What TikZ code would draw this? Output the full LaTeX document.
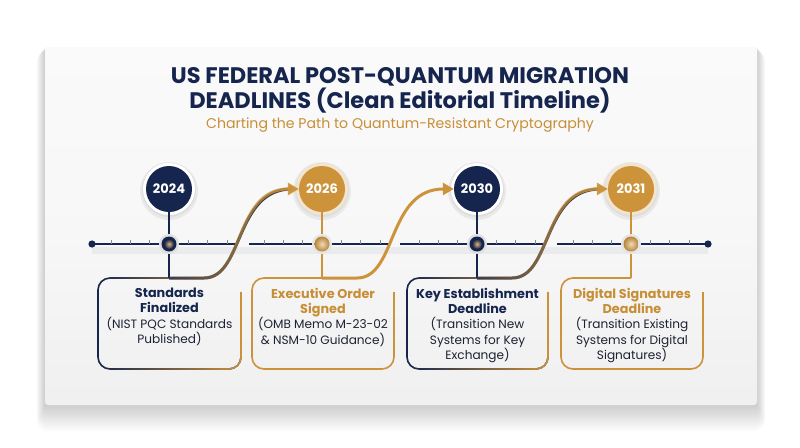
\documentclass[tikz,border=0pt]{standalone}
\usepackage{fontspec}
\setmainfont{Poppins}
\usetikzlibrary{arrows.meta,fadings,calc}
\definecolor{navy}{HTML}{15254D}
\definecolor{gold}{HTML}{CD933A}
\definecolor{goldtxt}{HTML}{C88E36}
\definecolor{bodytxt}{HTML}{1D2233}
\tikzfading[name=fadeleft, left color=transparent!100, right color=transparent!0]
\newcommand{\hn}[1]{{\fontsize{12.8}{15}\selectfont\bfseries\textcolor{navy}{#1}}}
\newcommand{\hg}[1]{{\fontsize{12.8}{15}\selectfont\bfseries\textcolor{goldtxt}{#1}}}
\tikzset{
  boxline/.style={line width=1.6pt, rounded corners=12pt},
  stem/.style={line width=1.6pt},
  tl/.style={line width=2pt, navy},
  tick/.style={line width=0.7pt, navy!55},
  flowhead/.style={-{Triangle[length=11pt,width=12pt]}},
  flow/.style={line width=3pt},
  boxtext/.style={align=center, inner sep=0pt, anchor=north, font=\fontsize{12.1}{15.2}\selectfont, text=bodytxt},
  year/.style={circle, minimum size=46pt, inner sep=0pt, text=white, font=\bfseries\fontsize{13}{15}\selectfont},
}
\begin{document}
\begin{tikzpicture}[x=1pt,y=-1pt]
\useasboundingbox (0,0) rectangle (800,447);
\fill[white] (0,0) rectangle (800,447);
% card shadow
\foreach \i in {1,...,12}{
  \fill[black, opacity=0.014, rounded corners=\i pt] (45-\i*0.7,47+\i*0.3) rectangle (757+\i*0.7,405+\i*2.2);
}
\shade[top color=gray!4, bottom color=gray!12, middle color=gray!6, rounded corners=3pt] (45,47) rectangle (757,405);
% title
\node[align=center, text=navy, font=\bfseries\fontsize{22.5}{25}\selectfont] (title) at (400,90)
  {US FEDERAL POST-QUANTUM MIGRATION\\DEADLINES (Clean Editorial Timeline)};
\node[text=goldtxt, font=\fontsize{14.1}{16}\selectfont] (sub) at (400,125) {Charting the Path to Quantum-Resistant Cryptography};

% timeline shadow
\draw[line width=7pt, navy, opacity=0.05] (92,250) -- (708,250);
% timeline segments
\draw[tl] (92,244) -- (235,244);
\draw[tl] (249,244) -- (390,244);
\draw[tl] (400,244) -- (543,244);
\draw[tl] (557,244) -- (708,244);
\fill[navy] (92,244) circle (3.6pt);
\fill[navy] (708,244) circle (3.6pt);
% ticks
\foreach \c in {169,322,477,631}{
  \foreach \d in {-58,-38.7,-19.3,19.3,38.7,58}{
    \draw[tick] (\c+\d,244) -- (\c+\d,239.5);
  }
}

% coordinates
\coordinate (ma) at (169,244); \coordinate (topa) at (169,278);
\coordinate (mb) at (322,244); \coordinate (topb) at (322,278);
\coordinate (mc) at (477,244); \coordinate (topc) at (477,278);
\coordinate (md) at (631,244); \coordinate (topd) at (631,278);

% box borders
\draw[boxline, navy] (241,292) -- (241,369) -- (98,369) -- (98,278) -- (topa);
\draw[boxline, gold, path fading=fadeleft] (241,292) -- (241,369) -- (98,369) -- (98,278) -- (topa);
\draw[boxline, gold] (394,292) -- (394,369) -- (252,369) -- (252,278) -- (topb);
\draw[boxline, navy] (548,292) -- (548,369) -- (407,369) -- (407,278) -- (topc);
\draw[boxline, gold, path fading=fadeleft] (548,292) -- (548,369) -- (407,369) -- (407,278) -- (topc);
\draw[boxline, gold] (703,292) -- (703,369) -- (561,369) -- (561,278) -- (topd);

% year circles
\foreach \c in {169,322,477,631}{
  \fill[black, opacity=0.06] (\c,191) circle (29pt);
  \fill[black, opacity=0.05] (\c,190) circle (27pt);
}
\fill[white] (169,189) circle (26pt);
\fill[white] (477,189) circle (26pt);
\fill[gold!25!white] (322,189) circle (26pt);
\fill[gold!25!white] (631,189) circle (26pt);
\node[year, fill=navy] (ya) at (169,189) {2024};
\node[year, fill=gold] (yb) at (322,189) {2026};
\node[year, fill=navy] (yc) at (477,189) {2030};
\node[year, fill=gold] (yd) at (631,189) {2031};

% stems
\draw[stem, navy] (ya) -- (ma) -- (topa);
\draw[stem, gold] (yb) -- (mb) -- (topb);
\draw[stem, navy] (yc) -- (mc) -- (topc);
\draw[stem, gold] (yd) -- (md) -- (topd);

% markers
\foreach \n in {a,c}{
  \fill[gray!25] (m\n) circle (10pt);
  \fill[navy] (m\n) circle (7.5pt);
  \shade[inner color=gold!70!white, outer color=navy] (m\n) circle (5pt);
}
\foreach \n in {b,d}{
  \fill[gray!20] (m\n) circle (10pt);
  \shade[inner color=gold!35!white, outer color=gold!90!black] (m\n) circle (7.5pt);
}

% flow arrows
\coordinate (sa) at (204,278);
\coordinate (sb) at (357,278);
\coordinate (sc) at (512,278);
\draw[flow, navy!80!gold] (topa) -- (sa) .. controls (244,278) and (234,189) .. (292,189);
\draw[flow, gold, path fading=fadeleft, flowhead] (topa) -- (sa) .. controls (244,278) and (234,189) .. (yb.west);
\draw[flow, gold, flowhead] (topb) -- (sb) .. controls (397,278) and (387,189) .. (yc.west);
\draw[flow, navy!80!gold] (topc) -- (sc) .. controls (552,278) and (542,189) .. (600,189);
\draw[flow, gold, path fading=fadeleft, flowhead] (topc) -- (sc) .. controls (552,278) and (542,189) .. (yd.west);

% box texts
\node[boxtext] (ta) at (169.5,288) {\hn{Standards}\\\hn{Finalized}\\(NIST PQC Standards\\Published)};
\node[boxtext] (tb) at (323,288) {\hg{Executive Order}\\\hg{Signed}\\(OMB Memo M-23-02\\\& NSM-10 Guidance)};
\node[boxtext] (tc) at (477.5,288) {\hn{Key Establishment}\\\hn{Deadline}\\(Transition New\\Systems for Key\\Exchange)};
\node[boxtext] (td) at (632,288) {\hg{Digital Signatures}\\\hg{Deadline}\\(Transition Existing\\Systems for Digital\\Signatures)};
\end{tikzpicture}
\end{document}
